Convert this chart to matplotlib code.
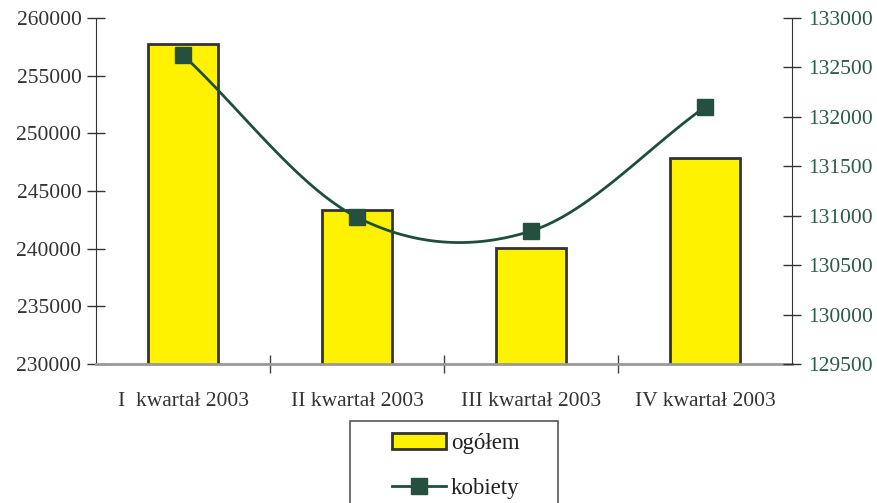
import numpy as np
import matplotlib
matplotlib.use("Agg")
import matplotlib.pyplot as plt
from matplotlib.patches import Patch, Rectangle
from matplotlib.lines import Line2D

categories = ["I  kwartał 2003", "II kwartał 2003", "III kwartał 2003", "IV kwartał 2003"]
ogolem = [257750, 243350, 240050, 247850]
kobiety = [132625, 130985, 130845, 132100]
left_ticks = [230000, 235000, 240000, 245000, 250000, 255000, 260000]
right_ticks = [129500, 130000, 130500, 131000, 131500, 132000, 132500, 133000]

plt.rcParams['font.family'] = ['Liberation Serif', 'DejaVu Serif']

W, H = 877, 503
fig = plt.figure(figsize=(W / 100, H / 100), dpi=100)
ax = fig.add_axes([96 / W, (H - 364) / H, (792 - 96) / W, (364 - 18) / H])
ax2 = ax.twinx()

x = np.arange(len(categories))
ax.bar(x, ogolem, width=0.4, color='#fff200', edgecolor='#333333', linewidth=2, zorder=2)
ax.set_xlim(-0.5, 3.5)
ax.set_ylim(230000, 260000)
ax.set_yticks(left_ticks)
ax.set_yticklabels([str(t) for t in left_ticks])
ax.tick_params(axis='y', direction='inout', length=13, width=1, colors='#333333',
               labelsize=15.5, pad=4)
ax.set_xticks(x)
ax.set_xticklabels(categories)
ax.set_xticks([0.5, 1.5, 2.5], minor=True)
ax.tick_params(axis='x', which='major', length=0, labelsize=15.5, pad=20, labelcolor='#333333')
ax.tick_params(axis='x', which='minor', direction='inout', length=13, width=1, color='#444444')

for s in ['top', 'right']:
    ax.spines[s].set_visible(False)
ax.spines['left'].set_color('#333333')
ax.spines['bottom'].set_color('#999999')
ax.spines['bottom'].set_linewidth(2)

# smooth (Catmull-Rom) line through the data points
def catmull(xs, ys, n=40):
    px = np.concatenate([[2 * xs[0] - xs[1]], xs, [2 * xs[-1] - xs[-2]]])
    py = np.concatenate([[2 * ys[0] - ys[1]], ys, [2 * ys[-1] - ys[-2]]])
    ox, oy = [], []
    for i in range(1, len(px) - 2):
        t = np.linspace(0, 1, n)
        for P, out in ((px, ox), (py, oy)):
            p0, p1, p2, p3 = P[i - 1], P[i], P[i + 1], P[i + 2]
            out.extend(0.5 * ((2 * p1) + (-p0 + p2) * t + (2 * p0 - 5 * p1 + 4 * p2 - p3) * t ** 2
                              + (-p0 + 3 * p1 - 3 * p2 + p3) * t ** 3))
    return np.array(ox), np.array(oy)

sx, sy = catmull(x.astype(float), np.array(kobiety, dtype=float))
green = '#1f4e3d'
ax2.plot(sx, sy, color=green, linewidth=2, zorder=3)
ax2.plot(x, kobiety, linestyle='none', marker='s', markersize=11, color='#25503f',
         markeredgecolor='#25503f', zorder=4)
ax2.set_ylim(129500, 133000)
ax2.set_yticks(right_ticks)
ax2.set_yticklabels([str(t) for t in right_ticks])
ax2.tick_params(axis='y', direction='inout', length=13, width=1, color='#333333',
                labelcolor='#2b5a48', labelsize=15.5, pad=5)
for s in ['top', 'left', 'bottom']:
    ax2.spines[s].set_visible(False)
ax2.spines['right'].set_color('#333333')

# legend frame (extends past the bottom edge, as in the reference)
fig.patches.append(Rectangle((350 / W, (H - 560) / H), 208 / W, 139 / H,
                             transform=fig.transFigure, facecolor='white',
                             edgecolor='#555555', linewidth=1.2, zorder=0))
handles = [Patch(facecolor='#fff200', edgecolor='#333333', linewidth=2),
           Line2D([0], [0], color=green, linewidth=2, marker='s', markersize=11,
                  markerfacecolor='#25503f', markeredgecolor='#25503f')]
leg = fig.legend(handles, ['ogółem', 'kobiety'], loc='upper left',
                 bbox_to_anchor=(392 / W, 1 - 433 / H), frameon=False,
                 fontsize=16.5, handlelength=2.36, handleheight=0.7,
                 handletextpad=0.2, labelspacing=1.05, borderpad=0, borderaxespad=0)
for t in leg.get_texts():
    t.set_color('#222222')

fig.savefig('out.png', dpi=100)
